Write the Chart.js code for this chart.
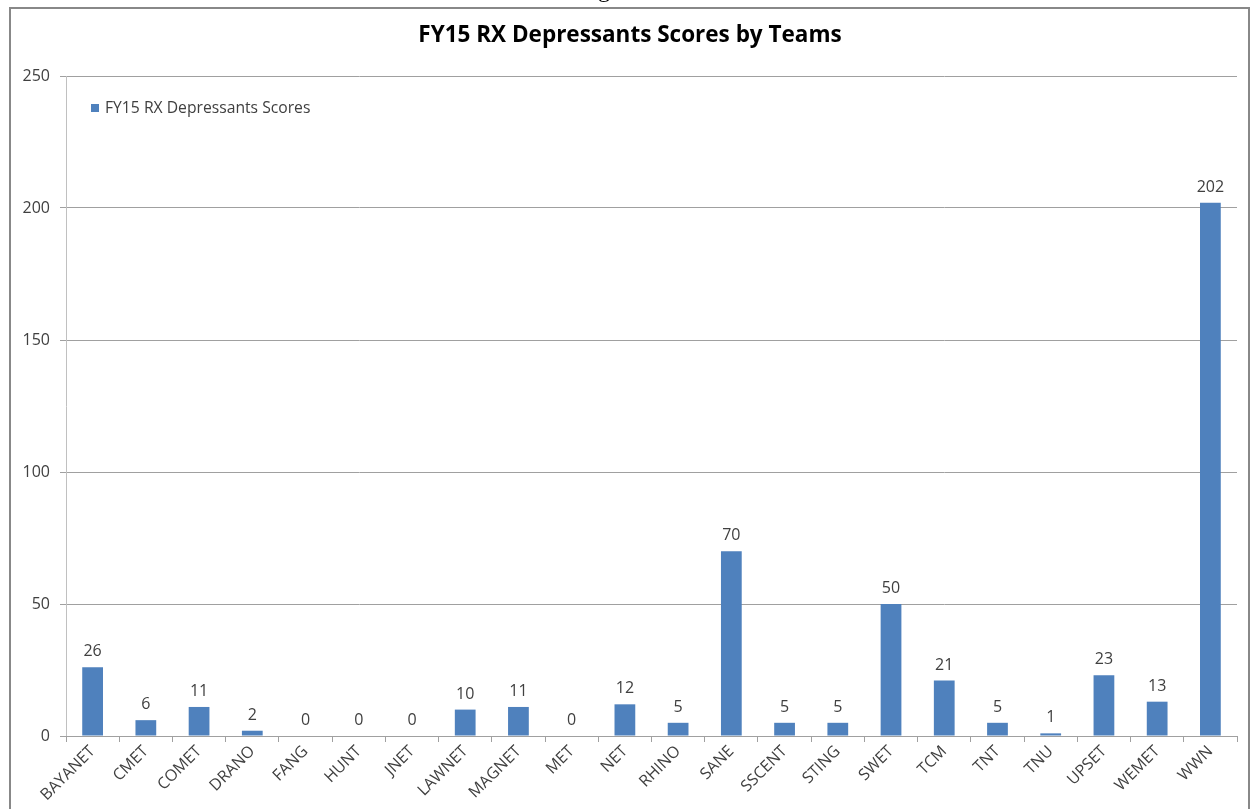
<!DOCTYPE html>
<html><head><meta charset="utf-8">
<script src="https://cdn.jsdelivr.net/npm/chart.js@4/dist/chart.umd.min.js"></script>
<style>
html,body{margin:0;padding:0;background:#fff;overflow:hidden;}
#wrap{position:relative;width:1251px;height:809px;overflow:hidden;}
#c{position:absolute;left:0;top:0;}
#frame{position:absolute;left:9px;top:7px;width:1237px;height:830px;border:2px solid #888;pointer-events:none;}
#fig{position:absolute;left:578px;top:-23px;font-size:24px;font-family:"Liberation Serif",serif;line-height:1;color:#000;}
</style></head><body>
<div id="wrap"><canvas id="c" width="1251" height="809"></canvas><div id="fig">Figure 3</div><div id="frame"></div></div>
<script>
const categories = ['BAYANET','CMET','COMET','DRANO','FANG','HUNT','JNET','LAWNET','MAGNET','MET','NET','RHINO','SANE','SSCENT','STING','SWET','TCM','TNT','TNU','UPSET','WEMET','WWN'];
const scores = [26,6,11,2,0,0,0,10,11,0,12,5,70,5,5,50,21,5,1,23,13,202];
const yTicks = [0,50,100,150,200,250];
const seriesLabel = 'FY15 RX Depressants Scores';
const chartTitle = 'FY15 RX Depressants Scores by Teams';

const FONT = '"Open Sans", "Liberation Sans", sans-serif';
const BAR = '#4f81bd';
const TXT = '#404040';

const overlay = {
  id: 'overlay',
  afterDraw(chart) {
    const ctx = chart.ctx;
    ctx.save();
    // title
    ctx.fillStyle = '#000';
    ctx.font = 'bold 22.5px ' + FONT;
    ctx.textAlign = 'center';
    ctx.textBaseline = 'middle';
    ctx.fillText(chartTitle, 630, 36);
    // legend
    ctx.fillStyle = chart.data.datasets[0].backgroundColor;
    ctx.fillRect(91, 104, 8, 8);
    ctx.fillStyle = TXT;
    ctx.font = '15.7px ' + FONT;
    ctx.textAlign = 'left';
    ctx.fillText(chart.data.datasets[0].label, 105, 108.5);
    // data labels
    ctx.font = '16px ' + FONT;
    ctx.textAlign = 'center';
    const meta = chart.getDatasetMeta(0);
    meta.data.forEach((bar, i) => {
      ctx.fillText(String(chart.data.datasets[0].data[i]), bar.x, bar.y - 15.5);
    });
    ctx.restore();
  }
};

new Chart(document.getElementById('c'), {
  type: 'bar',
  data: {
    labels: categories,
    datasets: [{
      label: seriesLabel,
      data: scores,
      backgroundColor: BAR,
      borderWidth: 0,
      barPercentage: 0.39,
      categoryPercentage: 1.0
    }]
  },
  options: {
    responsive: false,
    animation: false,
    devicePixelRatio: 1,
    layout: { padding: { left: 0, right: 14, top: 76, bottom: 0 } },
    plugins: { legend: { display: false }, title: { display: false }, tooltip: { enabled: false } },
    scales: {
      y: {
        min: 0, max: 250,
        afterBuildTicks: s => { s.ticks = yTicks.map(v => ({ value: v })); },
        afterFit: s => { s.width = 66; },
        ticks: { font: { family: FONT, size: 16 }, color: TXT, padding: 10 },
        grid: { color: '#a0a0a0', lineWidth: 1, tickLength: 6, drawTicks: true },
        border: { color: '#c0c0c0', width: 1 }
      },
      x: {
        afterFit: s => { s.height = 73; s.paddingLeft = 0; s.paddingRight = 0; },
        ticks: { font: { family: FONT, size: 16 }, color: TXT, minRotation: 45, maxRotation: 45, autoSkip: false, padding: 0 },
        grid: { display: true, drawOnChartArea: false, drawTicks: true, tickLength: 6, color: '#a0a0a0', offset: true },
        border: { color: '#a0a0a0', width: 1 }
      }
    }
  },
  plugins: [overlay]
});
</script>
</body></html>
